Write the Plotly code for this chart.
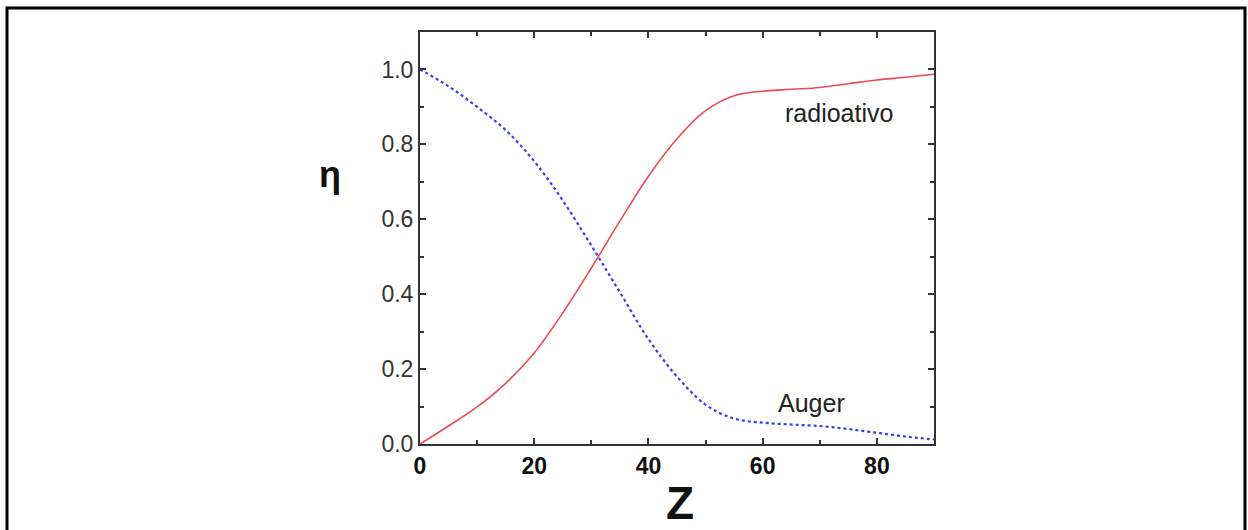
import plotly.graph_objects as go

Z = [0, 5, 10, 15, 20, 25, 30, 35, 40, 45, 50, 55, 60, 65, 70, 75, 80, 85, 90]
radiativo = [0.0, 0.048, 0.099, 0.162, 0.243, 0.35, 0.47, 0.595, 0.715, 0.815, 0.89, 0.93, 0.942,
             0.947, 0.952, 0.962, 0.972, 0.979, 0.987]
auger = [1.0, 0.955, 0.90, 0.838, 0.755, 0.65, 0.53, 0.405, 0.28, 0.18, 0.105, 0.068, 0.057,
         0.052, 0.048, 0.04, 0.03, 0.02, 0.012]

x_ticks = [0, 20, 40, 60, 80]
y_ticks = [0.0, 0.2, 0.4, 0.6, 0.8, 1.0]

fig = go.Figure()
fig.add_trace(go.Scatter(x=Z, y=radiativo, mode="lines",
                         line=dict(color="#ec4a55", width=1.6, shape="spline", smoothing=1.0),
                         showlegend=False, hoverinfo="skip"))
fig.add_trace(go.Scatter(x=Z, y=auger, mode="lines",
                         line=dict(color="#3c3cf0", width=2.2, dash="dot", shape="spline", smoothing=1.0),
                         showlegend=False, hoverinfo="skip"))

axis_common = dict(showline=True, linecolor="#333333", linewidth=2, mirror="allticks",
                   ticks="inside", ticklen=6, tickwidth=1.5, tickcolor="#333333",
                   showgrid=False, zeroline=False)

# plot area: x 420..934, y 32..444 (page pixels)
fig.update_layout(
    width=1248, height=530,
    margin=dict(l=420, r=314, t=32, b=86),
    paper_bgcolor="white", plot_bgcolor="white",
    font=dict(family="Arial, Liberation Sans, sans-serif", color="#222222"),
    xaxis=dict(range=[0, 90], tickvals=x_ticks,
               tickfont=dict(size=23, color="#111111", weight="bold"),
               minor=dict(ticks="inside", dtick=10, tick0=0, ticklen=4, tickcolor="#333333"),
               **axis_common),
    yaxis=dict(range=[0, 1.1], tickvals=y_ticks, tickformat=".1f",
               tickfont=dict(size=23, color="#333333"),
               minor=dict(ticks="inside", dtick=0.1, tick0=0, ticklen=4, tickcolor="#333333"),
               **axis_common),
    annotations=[
        dict(text="η", x=-0.175, y=0.653, xref="paper", yref="paper", showarrow=False,
             xanchor="center", yanchor="middle",
             font=dict(size=36, color="#111111", weight="bold")),
        dict(text="Z", x=0.506, y=-0.143, xref="paper", yref="paper", showarrow=False,
             xanchor="center", yanchor="middle",
             font=dict(size=46, color="#111111", weight="bold")),
        dict(text="radioativo", x=73.4, y=0.884, xref="x", yref="y", showarrow=False,
             xanchor="center", yanchor="middle",
             font=dict(size=25, color="#222222")),
        dict(text="Auger", x=68.6, y=0.11, xref="x", yref="y", showarrow=False,
             xanchor="center", yanchor="middle",
             font=dict(size=25, color="#222222")),
    ],
    shapes=[dict(type="rect", xref="paper", yref="paper",
                 x0=(7 - 420) / 514, x1=(1245 - 420) / 514,
                 y0=(444 - 545) / 412, y1=(444 - 8) / 412,
                 line=dict(color="black", width=3), fillcolor="rgba(0,0,0,0)")],
)

fig.write_html("out.html", config={"displayModeBar": False},
               post_script="document.body.style.margin='0px';document.body.style.overflow='hidden';")
